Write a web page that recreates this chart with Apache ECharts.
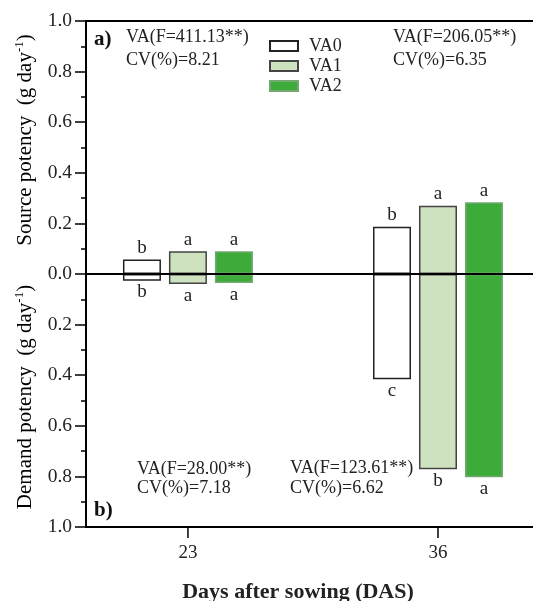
<!DOCTYPE html>
<html>
<head>
<meta charset="utf-8">
<script src="https://cdn.jsdelivr.net/npm/echarts@6/dist/echarts.min.js"></script>
<style>
  html, body { margin: 0; padding: 0; background: #fff; }
  #chart { width: 533px; height: 601px; }
</style>
</head>
<body>
<div id="chart"></div>
<script>
// data
var days = [23, 36];
var varieties = ["VA0", "VA1", "VA2"];
var sourceVA0 = [0.057, 0.187];
var sourceVA1 = [0.09, 0.27];
var sourceVA2 = [0.09, 0.284];
var demandVA0 = [0.027, 0.416];
var demandVA1 = [0.04, 0.772];
var demandVA2 = [0.036, 0.803];
var sourceLetters = [["b", "b"], ["a", "a"], ["a", "a"]];
var demandLetters = [["b", "c"], ["a", "b"], ["a", "a"]];
var yTicks = [-1, -0.8, -0.6, -0.4, -0.2, 0, 0.2, 0.4, 0.6, 0.8, 1];

var sources = [sourceVA0, sourceVA1, sourceVA2];
var demands = [demandVA0, demandVA1, demandVA2];
var fills = ["#ffffff", "#cfe2bf", "#3dab39"];
var borders = ["#222222", "#444444", "#74a871"];
var serif = "Liberation Serif";

var series = [];
varieties.forEach(function (name, i) {
  var itemStyle = { color: fills[i], borderColor: borders[i], borderWidth: 1.5 };
  series.push({
    name: name,
    type: "bar",
    stack: "s" + i,
    barWidth: 38,
    barGap: "21%",
    itemStyle: itemStyle,
    data: days.map(function (d, j) { return [d, sources[i][j]]; }),
    label: {
      show: true, position: "top", distance: 2,
      fontFamily: serif, fontSize: 19, color: "#222",
      formatter: function (p) { return sourceLetters[i][p.dataIndex]; }
    }
  });
  series.push({
    name: name,
    type: "bar",
    stack: "s" + i,
    barWidth: 38,
    barGap: "21%",
    itemStyle: itemStyle,
    data: days.map(function (d, j) { return [d, -demands[i][j]]; }),
    label: {
      show: true, position: "bottom", distance: 2,
      fontFamily: serif, fontSize: 19, color: "#222",
      formatter: function (p) { return demandLetters[i][p.dataIndex]; }
    }
  });
});
series[0].markLine = {
  silent: true,
  symbol: "none",
  label: { show: false },
  lineStyle: { color: "#000", width: 2, type: "solid" },
  data: [{ yAxis: 0 }]
};
// x ticks under the bottom axis at each sowing day
series.push({
  type: "custom",
  silent: true,
  clip: false,
  data: days.map(function (d) { return [d, -1]; }),
  renderItem: function (params, api) {
    var p = api.coord([api.value(0), api.value(1)]);
    return {
      type: "line",
      shape: { x1: p[0], y1: p[1], x2: p[0], y2: p[1] + 11 },
      style: { stroke: "#000", lineWidth: 1.5 }
    };
  }
});

function note(text, x, y) {
  return {
    type: "text", x: x, y: y,
    style: { text: text, font: "18px " + serif, fill: "#222",
             textVerticalAlign: "middle", verticalAlign: "middle" }
  };
}

var chart = echarts.init(document.getElementById("chart"));
chart.setOption({
  animation: false,
  backgroundColor: "#fff",
  grid: { left: 86, right: 0, top: 21, bottom: 74 },
  legend: {
    data: varieties,
    orient: "vertical",
    left: 264, top: 31,
    itemWidth: 28, itemHeight: 10, itemGap: 0,
    icon: "rect",
    textStyle: { fontFamily: serif, fontSize: 18, color: "#222", lineHeight: 20, padding: [0, 0, 0, 6] }
  },
  xAxis: [{
    type: "value",
    min: 17.7, max: 40.94,
    splitLine: { show: false },
    axisLine: { onZero: false, lineStyle: { color: "#000", width: 2 } },
    axisTick: { show: false },
    axisLabel: { customValues: days, margin: 17, fontFamily: serif, fontSize: 19, color: "#222" }
  }, {
    type: "value",
    position: "top",
    min: 17.7, max: 40.94,
    splitLine: { show: false },
    axisLine: { show: true, onZero: false, lineStyle: { color: "#000", width: 2 } },
    axisTick: { show: false },
    axisLabel: { show: false }
  }],
  yAxis: {
    type: "value",
    min: -1, max: 1, interval: 0.2,
    splitLine: { show: false },
    axisLine: { show: true, lineStyle: { color: "#000", width: 2 } },
    axisTick: { length: 11, lineStyle: { color: "#000", width: 1.5 } },
    minorTick: { show: true, splitNumber: 2, length: 5, lineStyle: { color: "#000", width: 1.5 } },
    axisLabel: {
      margin: 14, fontFamily: serif, fontSize: 19.5, color: "#222",
      customValues: yTicks,
      formatter: function (v) { return Math.abs(v).toFixed(1); }
    }
  },
  graphic: [
    {
      type: "text", x: 25, y: 140, rotation: Math.PI / 2,
      style: {
        text: "{n|Source potency  (g day}{s|-1}{n|)}",
        textAlign: "center", align: "center",
        textVerticalAlign: "middle", verticalAlign: "middle",
        rich: {
          n: { fontFamily: serif, fontSize: 21, color: "#222", lineHeight: 24 },
          s: { fontFamily: serif, fontSize: 13, color: "#222", verticalAlign: "top", lineHeight: 24 }
        }
      }
    },
    {
      type: "text", x: 25, y: 397, rotation: Math.PI / 2,
      style: {
        text: "{n|Demand potency  (g day}{s|-1}{n|)}",
        textAlign: "center", align: "center",
        textVerticalAlign: "middle", verticalAlign: "middle",
        rich: {
          n: { fontFamily: serif, fontSize: 21, color: "#222", lineHeight: 24 },
          s: { fontFamily: serif, fontSize: 13, color: "#222", verticalAlign: "top", lineHeight: 24 }
        }
      }
    },
    {
      type: "text", x: 298, y: 592,
      style: { text: "Days after sowing (DAS)", font: "bold 22px " + serif, fill: "#222",
               textAlign: "center", align: "center", textVerticalAlign: "middle", verticalAlign: "middle" }
    },
    {
      type: "text", x: 94, y: 40,
      style: { text: "a)", font: "bold 21px " + serif, fill: "#111", textVerticalAlign: "middle", verticalAlign: "middle" }
    },
    {
      type: "text", x: 94, y: 511,
      style: { text: "b)", font: "bold 21px " + serif, fill: "#111", textVerticalAlign: "middle", verticalAlign: "middle" }
    },
    note("VA(F=411.13**)", 126, 37),
    note("CV(%)=8.21", 126, 60),
    note("VA(F=206.05**)", 393, 37),
    note("CV(%)=6.35", 393, 60),
    note("VA(F=28.00**)", 137, 469),
    note("CV(%)=7.18", 137, 488),
    note("VA(F=123.61**)", 290, 468),
    note("CV(%)=6.62", 290, 488)
  ],
  series: series
});
</script>
</body>
</html>
